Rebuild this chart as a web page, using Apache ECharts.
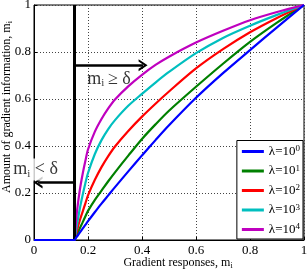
<!DOCTYPE html>
<html>
<head>
<meta charset="utf-8">
<script src="https://cdn.jsdelivr.net/npm/echarts@6/dist/echarts.min.js"></script>
<style>html,body{margin:0;padding:0;background:#fff}#c{width:308px;height:274px}</style>
</head>
<body>
<div id="c"></div>
<script>
// ---- data ----
const delta = 0.15;
const flatStartX = 0;
const xs = [0.15, 0.155, 0.16, 0.17, 0.18, 0.19, 0.2, 0.225, 0.25, 0.275, 0.3, 0.35, 0.4, 0.45, 0.5, 0.6, 0.7, 0.8, 0.9, 1.0];
const seriesNames = ['λ=10^0', 'λ=10^1', 'λ=10^2', 'λ=10^3', 'λ=10^4'];
const lambda1e0 = [0, 0.008, 0.016, 0.032, 0.048, 0.064, 0.08, 0.118, 0.155, 0.19, 0.225, 0.293, 0.36, 0.425, 0.488, 0.605, 0.71, 0.808, 0.905, 1];
const lambda1e1 = [0, 0.013, 0.026, 0.051, 0.075, 0.1, 0.124, 0.17, 0.21, 0.25, 0.288, 0.36, 0.43, 0.492, 0.55, 0.652, 0.75, 0.843, 0.925, 1];
const lambda1e2 = [0, 0.022, 0.044, 0.085, 0.12, 0.155, 0.19, 0.255, 0.31, 0.357, 0.398, 0.465, 0.525, 0.58, 0.632, 0.73, 0.812, 0.884, 0.945, 1];
const lambda1e3 = [0, 0.035, 0.07, 0.135, 0.19, 0.24, 0.285, 0.365, 0.425, 0.472, 0.51, 0.572, 0.622, 0.67, 0.715, 0.795, 0.86, 0.912, 0.958, 1];
const lambda1e4 = [0, 0.07, 0.13, 0.215, 0.28, 0.335, 0.385, 0.46, 0.515, 0.56, 0.598, 0.655, 0.703, 0.745, 0.78, 0.84, 0.89, 0.935, 0.97, 1];
const xTicks = [0, 0.2, 0.4, 0.6, 0.8, 1];
const yTicks = [0, 0.2, 0.4, 0.6, 0.8, 1];
// annotation anchors (data units)
const arrowRight = {y: 0.744, toX: 0.404};
const arrowLeft = {y: 0.245, toX: 0.015};
const labelGe = {x: 0.278, y: 0.685};
const labelLt = {x: 0.006, y: 0.3};

const colors = ['#0000ff', '#008000', '#ff0000', '#00bfbf', '#bf00bf'];
const allY = [lambda1e0, lambda1e1, lambda1e2, lambda1e3, lambda1e4];
const FONT = 'Liberation Serif';

const chevron = 'path://M0,20 L10,0 L20,20 L16,20 L10,8 L4,20 Z';

const series = allY.map((ys, k) => {
  let d = xs.map((x, i) => [x, ys[i]]);
  if (k === 0) d = [[flatStartX, 0]].concat(d);
  return {
    name: seriesNames[k], type: 'line', data: d, showSymbol: false,
    smooth: 0.3,
    lineStyle: {width: 2.2, color: colors[k]}, itemStyle: {color: colors[k]},
    z: 3 + (k === 0 ? 5 : 0)
  };
});

series.push({
  type: 'line', data: [], silent: true, z: 10,
  markLine: {
    silent: true, animation: false,
    label: {show: false},
    lineStyle: {color: '#000', type: 'solid'},
    data: [
      [{coord: [delta, 0], symbol: 'none', lineStyle: {width: 3, color: '#000'}},
       {coord: [delta, 1], symbol: 'none'}],
      [{coord: [delta, arrowRight.y], symbol: 'none', lineStyle: {width: 2.5, color: '#000'}},
       {coord: [arrowRight.toX, arrowRight.y], symbol: chevron, symbolSize: [12, 9]}],
      [{coord: [delta, arrowLeft.y], symbol: 'none', lineStyle: {width: 2.5, color: '#000'}},
       {coord: [arrowLeft.toX, arrowLeft.y], symbol: chevron, symbolSize: [12, 9]}]
    ]
  }
});

const annRich = {
  m: {fontFamily: FONT, fontSize: 18, color: '#000', lineHeight: 20},
  i: {fontFamily: FONT, fontSize: 11, color: '#000', verticalAlign: 'bottom', lineHeight: 14},
  t: {fontFamily: FONT, fontSize: 18, color: '#000', lineHeight: 20}
};
series.push({
  type: 'scatter', symbolSize: 0, silent: true, z: 12, clip: false,
  data: [
    {value: [labelGe.x, labelGe.y], label: {formatter: '{m|m}{i|i}{t|\u2009≥ δ}'}},
    {value: [labelLt.x, labelLt.y], label: {formatter: '{m|m}{i|i}{t| < δ}', backgroundColor: '#fff', padding: [1, 2, 1, 2]}}
  ],
  label: {show: true, position: 'inside', color: '#000', rich: annRich}
});

const nameRich = {
  n: {fontFamily: FONT, fontSize: 12, fill: '#000', color: '#000', lineHeight: 14},
  s: {fontFamily: FONT, fontSize: 8, fill: '#000', color: '#000', verticalAlign: 'bottom', lineHeight: 10}
};

const chart = echarts.init(document.getElementById('c'), null, {renderer: 'canvas'});
const axisCommon = {
  min: 0, max: 1, interval: 0.2,
  axisLine: {show: true, lineStyle: {color: '#000', width: 1}},
  axisTick: {show: true, inside: true, length: 3, lineStyle: {color: '#000'}},
  splitLine: {show: true, lineStyle: {color: '#444', type: [1, 2], width: 1}},
  axisLabel: {color: '#000', fontFamily: FONT, fontSize: 13,
    formatter: v => (Math.abs(v) < 1e-9 ? '0' : Math.abs(v - 1) < 1e-9 ? '1' : v.toFixed(1))}
};
chart.setOption({
  animation: false,
  backgroundColor: '#fff',
  grid: {left: 34, right: 4, top: 5, bottom: 34, containLabel: false, outerBoundsMode: 'none',
    show: true, borderColor: '#000', borderWidth: 1, backgroundColor: 'transparent'},
  xAxis: Object.assign({}, axisCommon, {
    type: 'value',
    axisLabel: Object.assign({}, axisCommon.axisLabel, {margin: 4})
  }),
  yAxis: Object.assign({}, axisCommon, {
    type: 'value',
    axisLabel: Object.assign({}, axisCommon.axisLabel, {margin: 3})
  }),
  graphic: [{
    type: 'text', x: 7, y: 107, rotation: Math.PI / 2, silent: true,
    style: {text: '{n|Amount of gradient information, m}{s|i}', rich: nameRich,
      align: 'center', verticalAlign: 'middle', fill: '#000'}
  }, {
    type: 'text', x: 178, y: 263, silent: true,
    style: {text: '{n|Gradient responses, m}{s|i}', rich: nameRich,
      align: 'center', verticalAlign: 'middle', fill: '#000'}
  }],
  legend: {
    data: seriesNames,
    orient: 'vertical', right: 5, bottom: 35,
    backgroundColor: '#fff', borderColor: '#000', borderWidth: 1, borderRadius: 0,
    padding: [4, 3, 3, 5], itemGap: 6, itemWidth: 22, itemHeight: 3, icon: 'rect',
    formatter: name => {
      const p = name.split('^');
      return '{a|' + p[0] + '}{b|' + p[1] + '}';
    },
    textStyle: {rich: {
      a: {fontFamily: FONT, fontSize: 13, color: '#000', lineHeight: 14},
      b: {fontFamily: FONT, fontSize: 9, color: '#000', verticalAlign: 'top', lineHeight: 10}
    }}
  },
  series: series
});
</script>
</body>
</html>
